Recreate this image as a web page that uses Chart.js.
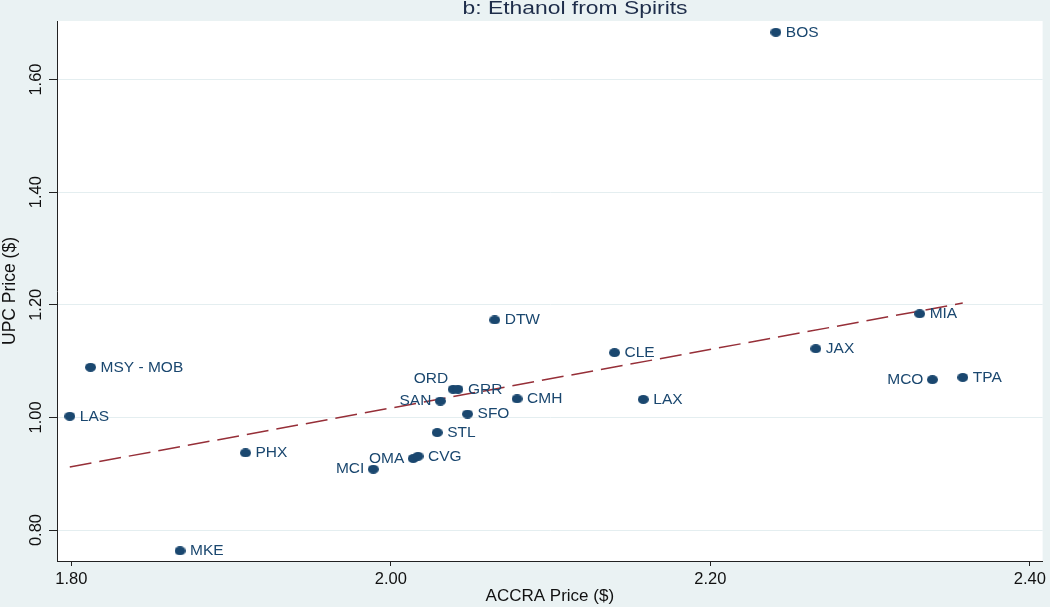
<!DOCTYPE html>
<html>
<head>
<meta charset="utf-8">
<script src="https://cdn.jsdelivr.net/npm/chart.js@4/dist/chart.umd.min.js"></script>
<style>
  html, body { margin: 0; padding: 0; background: #eaf2f3; }
  #wrap { width: 1050px; height: 607px; }
</style>
</head>
<body>
<div id="wrap"><canvas id="c" width="1050" height="607"></canvas></div>
<script>
// city codes and prices
var cities     = ['BOS', 'DTW', 'MIA', 'JAX', 'CLE', 'MSY - MOB', 'MCO', 'TPA', 'ORD', 'GRR', 'SAN',
                  'CMH', 'LAX', 'SFO', 'LAS', 'STL', 'OMA', 'CVG', 'MCI', 'PHX', 'MKE'];
var accraPrice = [2.241, 2.065, 2.331, 2.266, 2.140, 1.812, 2.339, 2.358, 2.039, 2.042, 2.031,
                  2.079, 2.158, 2.048, 1.799, 2.029, 2.014, 2.017, 1.989, 1.909, 1.868];
var upcPrice   = [1.684, 1.173, 1.184, 1.122, 1.115, 1.089, 1.067, 1.071, 1.050, 1.050, 1.029,
                  1.033, 1.032, 1.006, 1.002, 0.973, 0.927, 0.931, 0.908, 0.937, 0.763];

// fitted line end points
var fitX = [1.799, 2.358];
var fitY = [0.912, 1.203];

var xTicks = [1.80, 2.00, 2.20, 2.40];
var yTicks = [0.80, 1.00, 1.20, 1.40, 1.60];

var navy = '#1a476f';
var FONT = '"Liberation Sans", Arial, Helvetica, sans-serif';

// labels that sit on the left of their marker
var labelLeft = { 'ORD': 'upleft', 'SAN': 'left', 'OMA': 'left', 'MCI': 'left', 'MCO': 'left' };

// slightly wide marker, like the stata export
var dot = document.createElement('canvas');
dot.width = 11; dot.height = 9;
var dctx = dot.getContext('2d');
dctx.fillStyle = navy;
dctx.beginPath();
dctx.ellipse(5.5, 4.5, 5.5, 4.5, 0, 0, Math.PI * 2);
dctx.fill();

var points = [];
for (var i = 0; i < cities.length; i++) {
    points.push({ x: accraPrice[i], y: upcPrice[i] });
}
var fitLine = [];
for (var j = 0; j < fitX.length; j++) {
    fitLine.push({ x: fitX[j], y: fitY[j] });
}

var decorations = {
    id: 'decorations',
    beforeDraw: function (chart) {
        var ctx = chart.ctx, a = chart.chartArea;
        ctx.save();
        ctx.fillStyle = '#eaf2f3';
        ctx.fillRect(0, 0, chart.width, chart.height);
        ctx.fillStyle = '#ffffff';
        ctx.fillRect(a.left, a.top, a.right - a.left, a.bottom - a.top);
        ctx.restore();
    },
    afterDatasetsDraw: function (chart) {
        var ctx = chart.ctx;
        var meta = chart.getDatasetMeta(0);
        ctx.save();
        ctx.font = '15.5px ' + FONT;
        ctx.fillStyle = navy;
        ctx.textBaseline = 'middle';
        meta.data.forEach(function (pt, k) {
            var side = labelLeft[cities[k]];
            if (side === 'upleft') {
                ctx.textAlign = 'right';
                ctx.fillText(cities[k], pt.x - 5, pt.y - 11);
            } else if (side === 'left') {
                ctx.textAlign = 'right';
                ctx.fillText(cities[k], pt.x - 9, pt.y);
            } else {
                ctx.textAlign = 'left';
                ctx.fillText(cities[k], pt.x + 10, pt.y);
            }
        });
        ctx.restore();
    },
    afterDraw: function (chart) {
        var ctx = chart.ctx;
        var ys = chart.scales.y;
        ctx.save();
        // rotated y tick labels
        ctx.font = '16.5px ' + FONT;
        ctx.fillStyle = '#111';
        ctx.textAlign = 'center';
        ctx.textBaseline = 'alphabetic';
        yTicks.forEach(function (v) {
            var py = ys.getPixelForValue(v);
            ctx.save();
            ctx.translate(41, py);
            ctx.rotate(-Math.PI / 2);
            ctx.fillText(v.toFixed(2), 0, 0);
            ctx.restore();
        });
        // title, stretched a little like the original
        ctx.font = '17.5px ' + FONT;
        ctx.fillStyle = '#1e2d4a';
        ctx.textBaseline = 'middle';
        ctx.textAlign = 'center';
        var w = ctx.measureText('b: Ethanol from Spirits').width;
        ctx.translate(575, 9.5);
        ctx.scale(225 / w, 1);
        ctx.fillText('b: Ethanol from Spirits', 0, 0);
        ctx.restore();
    }
};

new Chart(document.getElementById('c'), {
    type: 'scatter',
    data: {
        datasets: [
            {
                label: 'UPC Price',
                data: points,
                pointStyle: dot,
                pointRadius: 5,
                pointHoverRadius: 5
            },
            {
                type: 'line',
                label: 'Fitted',
                data: fitLine,
                borderColor: '#962f38',
                borderWidth: 1.5,
                borderDash: [22, 8],
                pointRadius: 0,
                fill: false
            }
        ]
    },
    options: {
        responsive: false,
        animation: false,
        layout: { padding: { top: 21, right: 7, left: 0, bottom: 0 } },
        plugins: {
            legend: { display: false },
            tooltip: { enabled: false },
            title: { display: false }
        },
        scales: {
            x: {
                type: 'linear',
                min: 1.791,
                max: 2.408,
                afterFit: function (s) { s.height = 46; },
                afterBuildTicks: function (s) {
                    s.ticks = xTicks.map(function (v) { return { value: v }; });
                },
                ticks: {
                    color: '#111',
                    font: { family: FONT, size: 16.5 },
                    padding: 4,
                    maxRotation: 0,
                    callback: function (v) { return Number(v).toFixed(2); }
                },
                grid: {
                    drawOnChartArea: false,
                    tickLength: 5,
                    tickColor: '#222'
                },
                border: { display: true, color: '#222', width: 1 },
                title: {
                    display: true,
                    text: 'ACCRA Price ($)',
                    color: '#111',
                    font: { family: FONT, size: 17 },
                    padding: { top: 0, bottom: 0 }
                }
            },
            y: {
                type: 'linear',
                min: 0.745,
                max: 1.704,
                afterFit: function (s) { s.width = 57; },
                afterBuildTicks: function (s) {
                    s.ticks = yTicks.map(function (v) { return { value: v }; });
                },
                ticks: { display: false },
                grid: {
                    color: '#e4eef0',
                    tickLength: 8,
                    tickColor: '#222'
                },
                border: { display: true, color: '#222', width: 1 },
                title: {
                    display: true,
                    text: 'UPC Price ($)',
                    color: '#111',
                    font: { family: FONT, size: 17.5 },
                    padding: { top: 0, bottom: 0 }
                }
            }
        }
    },
    plugins: [decorations]
});
</script>
</body>
</html>
